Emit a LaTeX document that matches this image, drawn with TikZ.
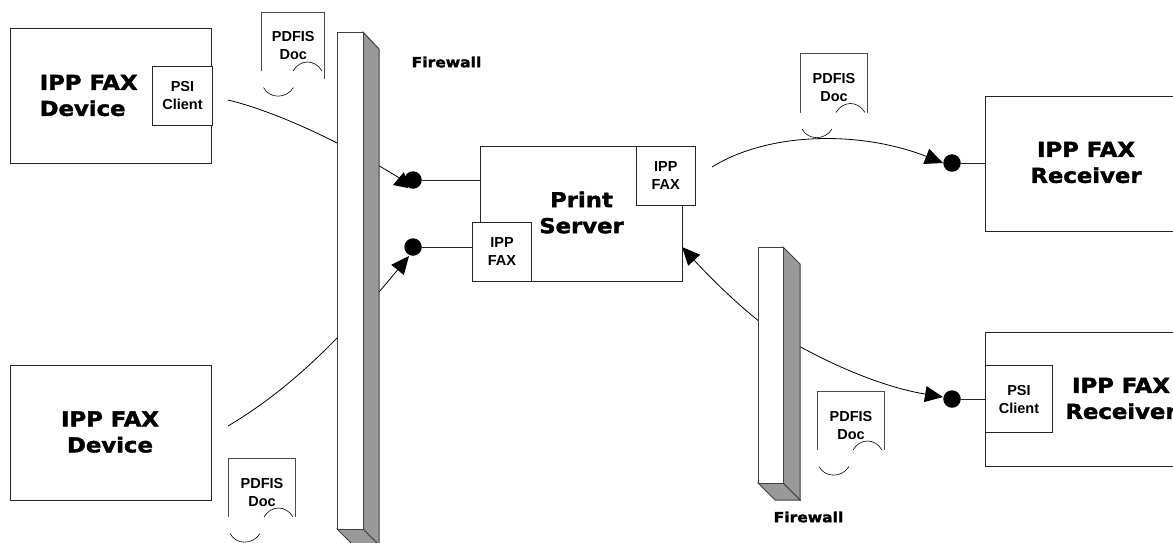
\documentclass[tikz,border=0pt]{standalone}
\usepackage{fontspec}
\setmainfont{Liberation Sans}
\newfontfamily\heavy{DejaVu Sans}[BoldFont={DejaVu Sans Bold},BoldFeatures={FakeBold=2,FakeStretch=1.11}]
\usetikzlibrary{arrows.meta}
\tikzset{
  box/.style={draw=black!85,line width=1pt,fill=white,inner sep=0pt,anchor=north west},
  biglabel/.style={font=\heavy\bfseries\fontsize{20.5}{26}\selectfont,align=center,text=black,inner sep=0pt},
  smalllabel/.style={font=\bfseries\fontsize{14.5}{18}\selectfont,align=center,text=black},
  fwlabel/.style={font=\heavy\bfseries\fontsize{14}{16}\selectfont,text=black},
  dot/.style={circle,fill=black,inner sep=0pt,minimum size=17.5pt},
  wire/.style={draw=black!85,line width=1pt},
  curve/.style={draw=black,line width=.8pt},
  tip/.style={-{Triangle[length=18pt,width=16pt]}},
  twotip/.style={{Triangle[length=18pt,width=16pt]}-{Triangle[length=18pt,width=16pt]}},
  fwfront/.style={draw=black!75,line width=1pt,fill=white},
  fwside/.style={draw=black!75,line width=1pt,fill=black!40},
  docline/.style={draw=black!70,line width=1pt},
  docarc/.style={draw=black,line width=.6pt}
}
\newcommand{\pdfdoc}[5]{% name, left, top, width, right side length
  \draw[docline] (#2,#3+59) -- (#2,#3) -- (#2+#4,#3) -- (#2+#4,#3+#5);
  \node[smalllabel] (#1) at (#2+#4/2+.5,#3+34) {PDFIS\\Doc};
  \draw[docarc] (#2+#4-31,#3+59) .. controls (#2+#4-24,#3+47) and (#2+#4-9,#3+47) .. (#2+#4-2,#3+59);
  \draw[docarc] (#2+2,#3+75.5) .. controls (#2+8,#3+87) and (#2+25,#3+87) .. (#2+32,#3+75.5);
}
\begin{document}
\begin{tikzpicture}[x=1pt,y=-1pt]
\useasboundingbox (0,0) rectangle (1173,542);
\clip (0,0) rectangle (1173,542);

% endpoints
\node[dot] (d1) at (413,180) {};
\node[dot] (d2) at (413,247) {};
\node[dot] (d3) at (952,163) {};
\node[dot] (d4) at (952,399) {};
\coordinate (s1) at (228,100);
\coordinate (s2) at (228,426);
\coordinate (s3) at (712,167);
\coordinate (e1) at (401,179);
\coordinate (e2) at (409,256);
\coordinate (e3) at (943,163);
\coordinate (e4) at (943,397);
\coordinate (e5) at (682,247);

% curves, behind the firewalls
\draw[curve] (s1) .. controls (270,110) and (335,138) .. (e1);
\draw[curve,tip] (s2) .. controls (280,395) and (330,352) .. (e2);
\draw[curve,tip] (s3) .. controls (770,131) and (862,131) .. (e3);
\draw[curve,twotip] (e5) .. controls (705,272) and (730,298) .. (760,322) .. controls (800,350) and (870,385) .. (e4);
\fill[black] (393,185) -- (404,172) -- (408,188) -- cycle;

% firewalls
\fill[white] (337,32) rectangle (379,545);
\draw[fwside] (363,32) -- (379,49) -- (379,545) -- (363,529) -- cycle;
\draw[fwside] (337,529) -- (363,529) -- (379,545) -- (353,545) -- cycle;
\draw[fwfront] (337,32) rectangle (363,529);
\draw[fwside] (783,247) -- (800,264) -- (800,500) -- (783,483) -- cycle;
\draw[fwside] (758,483) -- (783,483) -- (800,500) -- (775,500) -- cycle;
\draw[fwfront] (758,247) rectangle (783,483);
\node[fwlabel] (fw1) at (446.5,62) {Firewall};
\node[fwlabel] (fw2) at (808.5,517) {Firewall};

% devices
\node[box,minimum width=201pt,minimum height=135pt] (dev1) at (10,28) {};
\node[biglabel,align=left,anchor=west] (dev1t) at (39.5,95.5) {IPP FAX\\Device};
\node[box,minimum width=60pt,minimum height=59pt,smalllabel] (psi1) at (152,66) {PSI\\Client};
\node[box,minimum width=201pt,minimum height=135pt] (dev2) at (10,365) {};
\node[biglabel] (dev2t) at (110,432) {IPP FAX\\Device};

% print server
\node[box,minimum width=202pt,minimum height=134.5pt] (srv) at (480,146) {};
\node[biglabel] (srvt) at (581.5,212.5) {Print\\Server};
\node[box,minimum width=58.5pt,minimum height=59pt,smalllabel] (fax1) at (636,146) {IPP\\FAX};
\node[box,minimum width=59pt,minimum height=59pt,smalllabel] (fax2) at (472,222) {IPP\\FAX};

% receivers
\node[box,minimum width=200pt,minimum height=135pt] (rec1) at (985,96) {};
\node[biglabel] (rec1t) at (1086,162.5) {IPP FAX\\Receiver};
\node[box,minimum width=200pt,minimum height=134pt] (rec2) at (985,332) {};
\node[box,minimum width=67pt,minimum height=67pt,smalllabel] (psi2) at (985,365) {PSI\\Client};
\node[biglabel] (rec2t) at (1121,398.5) {IPP FAX\\Receiver};

% stubs
\draw[wire] (d1) -- (d1 -| srv.west);
\draw[wire] (d2) -- (fax2.west |- d2);
\draw[wire] (d3) -- (d3 -| rec1.west);
\draw[wire] (d4) -- (d4 -| rec2.west);

% documents
\pdfdoc{doc1}{261.5}{12}{62.5}{67}
\pdfdoc{doc2}{800}{53.5}{67}{59}
\pdfdoc{doc3}{228}{458}{67}{59}
\pdfdoc{doc4}{817}{391}{67}{59}
\end{tikzpicture}
\end{document}
